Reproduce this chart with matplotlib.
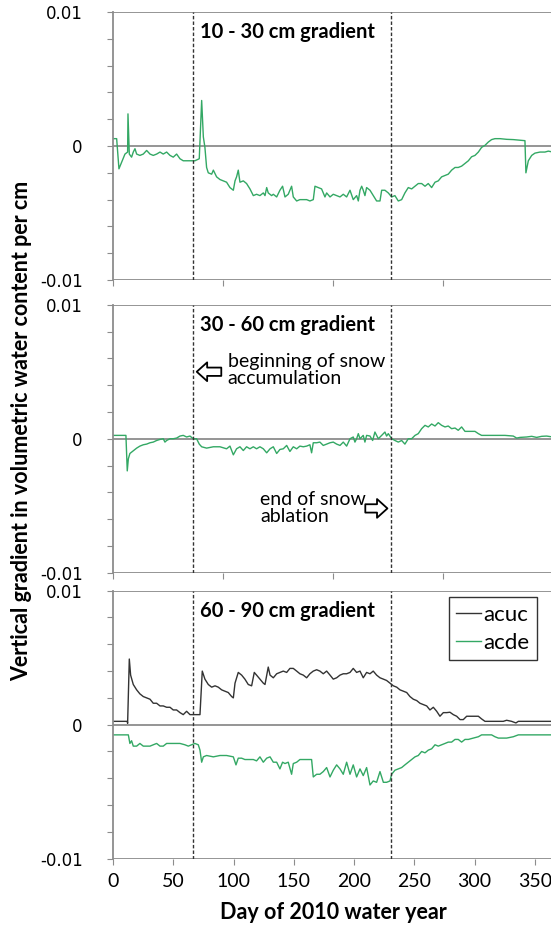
import matplotlib.pyplot as plt
import numpy as np

plt.rcParams['font.family'] = ['Lato', 'DejaVu Sans']

# 10 - 30 cm gradient (acde)
day_1030 = [0, 2.8, 4.7, 9.7, 11.9, 12.2, 13.3, 15.2, 16.6, 18.0, 19.4, 22.1, 24.9, 27.7,
            30.5, 33.2, 36.0, 38.8, 41.5, 44.3, 47.1, 49.8, 52.6, 55.4, 58.1, 63.7, 67.8,
            71.4, 73.4, 74.8, 76.1, 77.5, 78.9, 81.7, 83.1, 85.8, 88.6, 91.4, 94.1, 96.9,
            99.7, 101.1, 102.4, 103.8, 105.2, 108.0, 110.7, 113.5, 116.3, 119.0, 121.8,
            124.6, 126.0, 127.4, 128.7, 131.5, 132.9, 135.7, 138.4, 140.6, 142.6, 145.3,
            148.1, 149.5, 152.3, 155.0, 157.8, 160.6, 163.3, 166.1, 167.5, 170.3, 173.0,
            175.8, 177.2, 180.0, 182.7, 185.5, 188.3, 191.0, 193.8, 196.6, 199.3, 202.1,
            203.5, 204.9, 206.3, 207.6, 209.0, 210.4, 213.2, 215.9, 218.7, 221.5, 222.9,
            225.6, 228.4, 231.2, 233.9, 236.7, 239.5, 242.2, 245.0, 247.8, 250.6, 253.3,
            256.1, 258.9, 261.6, 264.4, 267.2, 269.9, 272.7, 275.5, 278.2, 281.0, 283.8,
            286.5, 289.3, 292.1, 294.9, 297.6, 300.4, 303.2, 305.9, 308.7, 311.5, 314.2,
            317.0, 321.2, 326.7, 332.2, 337.8, 341.9, 342.7, 344.7, 347.5, 350.2, 354.4,
            358.5, 361.3, 365]
grad_1030 = [0.00055, 0.00055, -0.0017, -0.0006, -0.00045, 0.0024, -0.0006, -0.00083,
             -0.00045, -0.0002, -0.0006, -0.0007, -0.0006, -0.00033, -0.0006, -0.0007,
             -0.0006, -0.00045, -0.0006, -0.00045, -0.0007, -0.00083, -0.0006, -0.00095,
             -0.0011, -0.0011, -0.0011, -0.00095, 0.0034, 0.00068, -0.0001, -0.0016, -0.0020,
             -0.0021, -0.0018, -0.0023, -0.0025, -0.0026, -0.0027, -0.0031, -0.0033, -0.0026,
             -0.0023, -0.0018, -0.0027, -0.0026, -0.0028, -0.0032, -0.0037, -0.0036, -0.0037,
             -0.0035, -0.0037, -0.0031, -0.0035, -0.0037, -0.0036, -0.0038, -0.0033, -0.0030,
             -0.0038, -0.0036, -0.0030, -0.0038, -0.0041, -0.0040, -0.0040, -0.0040, -0.0041,
             -0.0040, -0.0030, -0.0031, -0.0032, -0.0038, -0.0035, -0.0038, -0.0036, -0.0037,
             -0.0038, -0.0036, -0.0038, -0.0033, -0.0040, -0.0037, -0.0041, -0.0033, -0.0030,
             -0.0033, -0.0037, -0.0031, -0.0033, -0.0037, -0.0041, -0.0041, -0.0033, -0.0033,
             -0.0035, -0.0038, -0.0037, -0.0041, -0.0040, -0.0035, -0.0031, -0.0032, -0.0030,
             -0.0028, -0.0028, -0.0030, -0.0028, -0.0031, -0.0027, -0.0026, -0.0023, -0.0022,
             -0.0021, -0.0018, -0.0016, -0.0016, -0.0015, -0.0013, -0.0011, -0.0008, -0.0007,
             -0.00045, -0.0001, 0.00005, 0.0003, 0.00048, 0.00055, 0.00055, 0.0005, 0.00048,
             0.00043, 0.0004, -0.0020, -0.0011, -0.0007, -0.00053, -0.00045, -0.00045,
             -0.00038, -0.00045]

# 30 - 60 cm gradient (acde)
day_3060 = [0, 10.5, 11.6, 12.5, 13.8, 16.6, 19.4, 22.1, 24.9, 27.7, 30.5, 33.2, 36.0, 38.8,
            41.5, 42.9, 44.3, 47.1, 49.8, 52.6, 55.4, 58.1, 60.9, 63.7, 66.4, 69.2, 71.4,
            73.4, 77.5, 83.1, 88.6, 94.1, 96.9, 99.7, 102.4, 105.2, 108.0, 110.7, 113.5,
            116.3, 119.0, 121.8, 124.6, 127.4, 130.2, 132.9, 135.7, 138.4, 141.2, 144.0,
            146.7, 149.5, 152.3, 155.0, 157.8, 160.6, 163.3, 164.7, 166.1, 168.9, 171.6,
            174.4, 177.2, 180.0, 182.7, 185.5, 188.3, 191.0, 193.8, 196.6, 199.3, 200.7,
            202.1, 203.5, 204.9, 207.6, 209.0, 210.4, 213.2, 215.4, 217.3, 220.1, 222.9,
            225.6, 227.0, 228.4, 231.2, 233.9, 236.7, 239.5, 242.2, 245.0, 247.8, 250.6,
            253.3, 256.1, 258.9, 261.6, 264.4, 267.2, 269.9, 272.7, 275.5, 278.2, 281.0,
            283.8, 286.5, 289.3, 292.1, 294.9, 297.6, 300.4, 303.2, 305.9, 315.6, 325.3,
            332.2, 335.0, 337.8, 343.3, 347.5, 351.6, 355.8, 359.9, 365]
grad_3060 = [0.00025, 0.00025, -0.0024, -0.0015, -0.0011, -0.0009, -0.0007, -0.00055,
             -0.00045, -0.0004, -0.0003, -0.00025, -0.00013, -0.00005, 0.0, -0.00025,
             -0.00013, 0.0, 0.0, 0.00005, 0.0002, 0.00025, 0.00013, 0.0002, 0.0, 0.0,
             -0.0004, -0.0006, -0.0007, -0.0006, -0.0006, -0.00075, -0.00055, -0.0012,
             -0.00075, -0.0006, -0.00088, -0.0006, -0.00075, -0.0006, -0.00075, -0.0006,
             -0.00075, -0.00105, -0.00075, -0.0006, -0.0011, -0.0008, -0.00075, -0.0005,
             -0.00095, -0.0006, -0.00075, -0.00055, -0.0006, -0.00055, -0.00045, -0.00105,
             -0.0003, -0.0003, -0.00025, -0.0005, -0.0004, -0.0003, -0.00025, -0.0004,
             -0.0005, -0.00025, -0.00055, 0.0, 0.00013, -0.00025, 0.0, 0.00038, 0.0,
             0.00025, -0.00025, 0.00025, 0.0002, -0.00013, 0.0005, 0.0, 0.00025, 0.0005,
             0.0002, 0.00038, 0.0, -0.00013, -0.00025, -0.00013, -0.0004, 0.0, 0.0, 0.00025,
             0.00038, 0.00075, 0.001, 0.00088, 0.0011, 0.00095, 0.0012, 0.001, 0.00088,
             0.00095, 0.00075, 0.0008, 0.00063, 0.00088, 0.00055, 0.00055, 0.00055, 0.00055,
             0.00038, 0.00025, 0.00025, 0.00025, 0.0002, 0.00005, 0.0001, 0.00013, 0.00018,
             0.0001, 0.00018, 0.0002, 0.00013]

# 60 - 90 cm gradient, acuc site
day_acuc = [0, 11.6, 11.9, 13.3, 14.4, 16.6, 19.4, 22.1, 24.9, 27.7, 30.5, 33.2, 36.0, 38.8,
            41.5, 44.3, 47.1, 49.8, 52.6, 55.4, 58.1, 60.9, 63.7, 67.8, 72.0, 73.9, 76.1,
            78.9, 81.7, 84.5, 87.2, 90.0, 92.7, 95.5, 98.3, 99.7, 101.1, 103.8, 106.6,
            109.3, 112.1, 114.9, 117.1, 119.0, 121.8, 124.6, 126.0, 128.7, 130.2, 132.9,
            135.7, 138.4, 141.2, 144.0, 146.7, 149.5, 152.3, 155.0, 157.8, 160.6, 163.3,
            166.1, 168.9, 171.6, 174.4, 177.2, 180.0, 182.7, 185.5, 188.3, 191.0, 193.8,
            196.6, 199.3, 202.1, 204.9, 207.6, 210.4, 213.2, 215.9, 218.7, 221.5, 224.3,
            227.0, 229.8, 232.6, 235.4, 238.1, 240.9, 243.7, 246.4, 249.2, 252.0, 254.7,
            257.5, 260.3, 263.0, 265.8, 268.6, 271.3, 274.1, 276.9, 279.6, 282.4, 285.2,
            288.0, 290.7, 293.5, 296.3, 300.4, 303.2, 305.9, 308.7, 315.6, 321.2, 323.9,
            326.7, 330.8, 334.4, 336.4, 365]
grad_acuc = [0.00025, 0.00025, 0.0001, 0.0049, 0.0037, 0.003, 0.0026, 0.0023, 0.0021,
             0.002, 0.0019, 0.0016, 0.0016, 0.0014, 0.0014, 0.0013, 0.0013, 0.0011, 0.0011,
             0.0009, 0.00075, 0.001, 0.00075, 0.00075, 0.00075, 0.004, 0.0034, 0.003,
             0.0028, 0.0029, 0.0028, 0.0026, 0.0025, 0.0024, 0.0021, 0.002, 0.0031, 0.0039,
             0.0037, 0.0034, 0.003, 0.0029, 0.0039, 0.0037, 0.0034, 0.0031, 0.003, 0.0043,
             0.0037, 0.0035, 0.0038, 0.0039, 0.004, 0.0039, 0.0042, 0.0042, 0.004, 0.0038,
             0.0037, 0.0035, 0.0038, 0.004, 0.0041, 0.004, 0.0038, 0.004, 0.0037, 0.0034,
             0.0035, 0.0037, 0.0038, 0.0038, 0.0039, 0.0042, 0.0039, 0.004, 0.0035, 0.0039,
             0.0038, 0.004, 0.0037, 0.0035, 0.0034, 0.0033, 0.0031, 0.0029, 0.0028, 0.0026,
             0.0025, 0.0024, 0.0021, 0.0019, 0.0018, 0.0016, 0.0015, 0.0014, 0.0011, 0.0013,
             0.001, 0.00063, 0.0009, 0.0009, 0.00093, 0.00075, 0.00063, 0.00038, 0.00038,
             0.00063, 0.00063, 0.00063, 0.00063, 0.00043, 0.00025, 0.00025, 0.00025,
             0.00025, 0.00033, 0.00025, 0.00013, 0.00025, 0.00025]

# 60 - 90 cm gradient, acde site
day_acde = [0, 12.5, 13.8, 15.2, 16.6, 19.4, 22.1, 24.9, 27.7, 30.5, 33.2, 36.0, 38.8, 41.5,
            44.3, 49.8, 55.4, 59.5, 62.3, 65.0, 67.8, 70.6, 72.0, 73.4, 74.8, 77.5, 83.1,
            88.6, 94.1, 99.7, 101.9, 103.8, 106.6, 109.3, 113.5, 116.3, 119.0, 121.8, 124.6,
            127.4, 130.2, 132.9, 135.7, 138.4, 140.6, 142.6, 145.3, 148.1, 149.5, 152.3,
            155.0, 160.6, 164.7, 166.1, 168.9, 171.6, 174.4, 177.2, 180.0, 182.7, 185.5,
            188.3, 191.0, 193.8, 196.6, 199.3, 202.1, 204.9, 207.6, 210.4, 213.2, 215.9,
            218.7, 221.5, 224.3, 227.0, 229.8, 231.2, 233.9, 236.7, 239.5, 242.2, 245.0,
            247.8, 250.6, 253.3, 256.1, 258.9, 261.6, 264.4, 267.2, 269.9, 272.7, 275.5,
            278.2, 281.0, 283.8, 286.5, 289.3, 292.1, 294.9, 299.0, 303.2, 305.9, 314.2,
            317.0, 319.8, 326.7, 332.2, 336.4, 365]
grad_acde = [-0.00076, -0.00076, -0.0014, -0.0012, -0.0016, -0.0016, -0.0014, -0.0016,
             -0.0016, -0.0016, -0.0015, -0.0014, -0.0016, -0.0016, -0.0014, -0.0014, -0.0014,
             -0.0015, -0.0016, -0.0015, -0.0014, -0.0015, -0.0019, -0.0028, -0.0024, -0.0023,
             -0.0024, -0.0023, -0.0023, -0.0024, -0.003, -0.0025, -0.0025, -0.0026, -0.0026,
             -0.0026, -0.0027, -0.0024, -0.0028, -0.0025, -0.0024, -0.0028, -0.0028, -0.0033,
             -0.0028, -0.0029, -0.0028, -0.0037, -0.0029, -0.0028, -0.0026, -0.0026, -0.0026,
             -0.0039, -0.0037, -0.0037, -0.0035, -0.0032, -0.0039, -0.0034, -0.003, -0.0033,
             -0.0037, -0.0028, -0.0037, -0.003, -0.0039, -0.0033, -0.0038, -0.0032, -0.0045,
             -0.0042, -0.0043, -0.0035, -0.0043, -0.0043, -0.0042, -0.0037, -0.0034, -0.0033,
             -0.0032, -0.003, -0.0028, -0.0026, -0.0024, -0.0023, -0.002, -0.0021, -0.0019,
             -0.0018, -0.0015, -0.0016, -0.0015, -0.0014, -0.0013, -0.0013, -0.0011, -0.0011,
             -0.0013, -0.0011, -0.0011, -0.001, -0.0009, -0.00076, -0.00076, -0.0009, -0.001,
             -0.001, -0.0009, -0.00076, -0.00076]

panel_titles = ['10 - 30 cm gradient', '30 - 60 cm gradient', '60 - 90 cm gradient']
snow_days = [66, 231]   # start of accumulation, end of ablation

green = '#33a864'
grey = '#8c8c8c'

fig = plt.figure(figsize=(5.51, 9.26), dpi=100)
left, width = 0.2056, 0.7976
bottoms = [0.6976, 0.3815, 0.0727]
height = 0.2894
axes = [fig.add_axes([left, b, width, height]) for b in bottoms]

axes[0].plot(day_1030, grad_1030, color=green, lw=1)
axes[1].plot(day_3060, grad_3060, color=green, lw=1)
axes[2].plot(day_acuc, grad_acuc, color='#333333', lw=1, label='acuc')
axes[2].plot(day_acde, grad_acde, color=green, lw=1, label='acde')

for i, ax in enumerate(axes):
    ax.set_xlim(0, 365)
    ax.set_ylim(-0.01, 0.01)
    for y in (-0.01, 0, 0.01):
        ax.axhline(y, color=grey, lw=1.3, zorder=1)
    for d in snow_days:
        ax.axvline(d, color='#333333', lw=1, ls=(0, (2.5, 1.5)), zorder=3)
    for s in ('top', 'right', 'bottom'):
        ax.spines[s].set_visible(False)
    ax.spines['left'].set_color(grey)
    ax.spines['left'].set_linewidth(1.3)
    ax.set_yticks(np.arange(-0.01, 0.0101, 0.002))
    ax.set_yticklabels(['-0.01', '', '', '', '', '0', '', '', '', '', '0.01'],
                       family='DejaVu Sans')
    ax.tick_params(axis='y', length=4, color=grey, pad=18, labelsize=12)
    ax.tick_params(axis='x', length=4, color=grey, labelsize=14, pad=6)
    if i < 2:
        ax.set_xticks(np.linspace(0, 365, 5))
        ax.set_xticklabels([])
    else:
        ax.set_xticks(np.arange(0, 351, 50))
    ax.text(72, 0.0085, panel_titles[i], fontsize=14.5, fontweight='bold', va='center')

# snow season markers in the middle panel
arrow_style = dict(arrowstyle='simple,head_width=0.9,tail_width=0.4,head_length=0.5',
                   fc='white', ec='black', lw=1.3, mutation_scale=15)
mid = axes[1]
mid.text(95, 0.0051, 'beginning of snow\naccumulation', fontsize=14, va='center',
         linespacing=1.0)
mid.annotate('', xy=(67, 0.005), xytext=(92, 0.005), arrowprops=arrow_style)
mid.text(122, -0.0052, 'end of snow\nablation', fontsize=14, va='center', linespacing=1.0)
mid.annotate('', xy=(230, -0.0052), xytext=(207, -0.0052), arrowprops=arrow_style)

leg = axes[2].legend(loc='upper right', bbox_to_anchor=(0.964, 0.976), borderaxespad=0,
                     fontsize=16, handlelength=1.1, handletextpad=0.1, fancybox=False,
                     edgecolor='#333333', framealpha=1, borderpad=0.35, labelspacing=0.35)
leg.get_frame().set_linewidth(1)

axes[2].set_xlabel('Day of 2010 water year', fontsize=15.5, fontweight='bold', labelpad=9)
fig.text(0.04, 0.535, 'Vertical gradient in volumetric water content per cm', rotation=90,
         fontsize=15.5, fontweight='bold', ha='center', va='center')

fig.savefig('out.png', dpi=100)
